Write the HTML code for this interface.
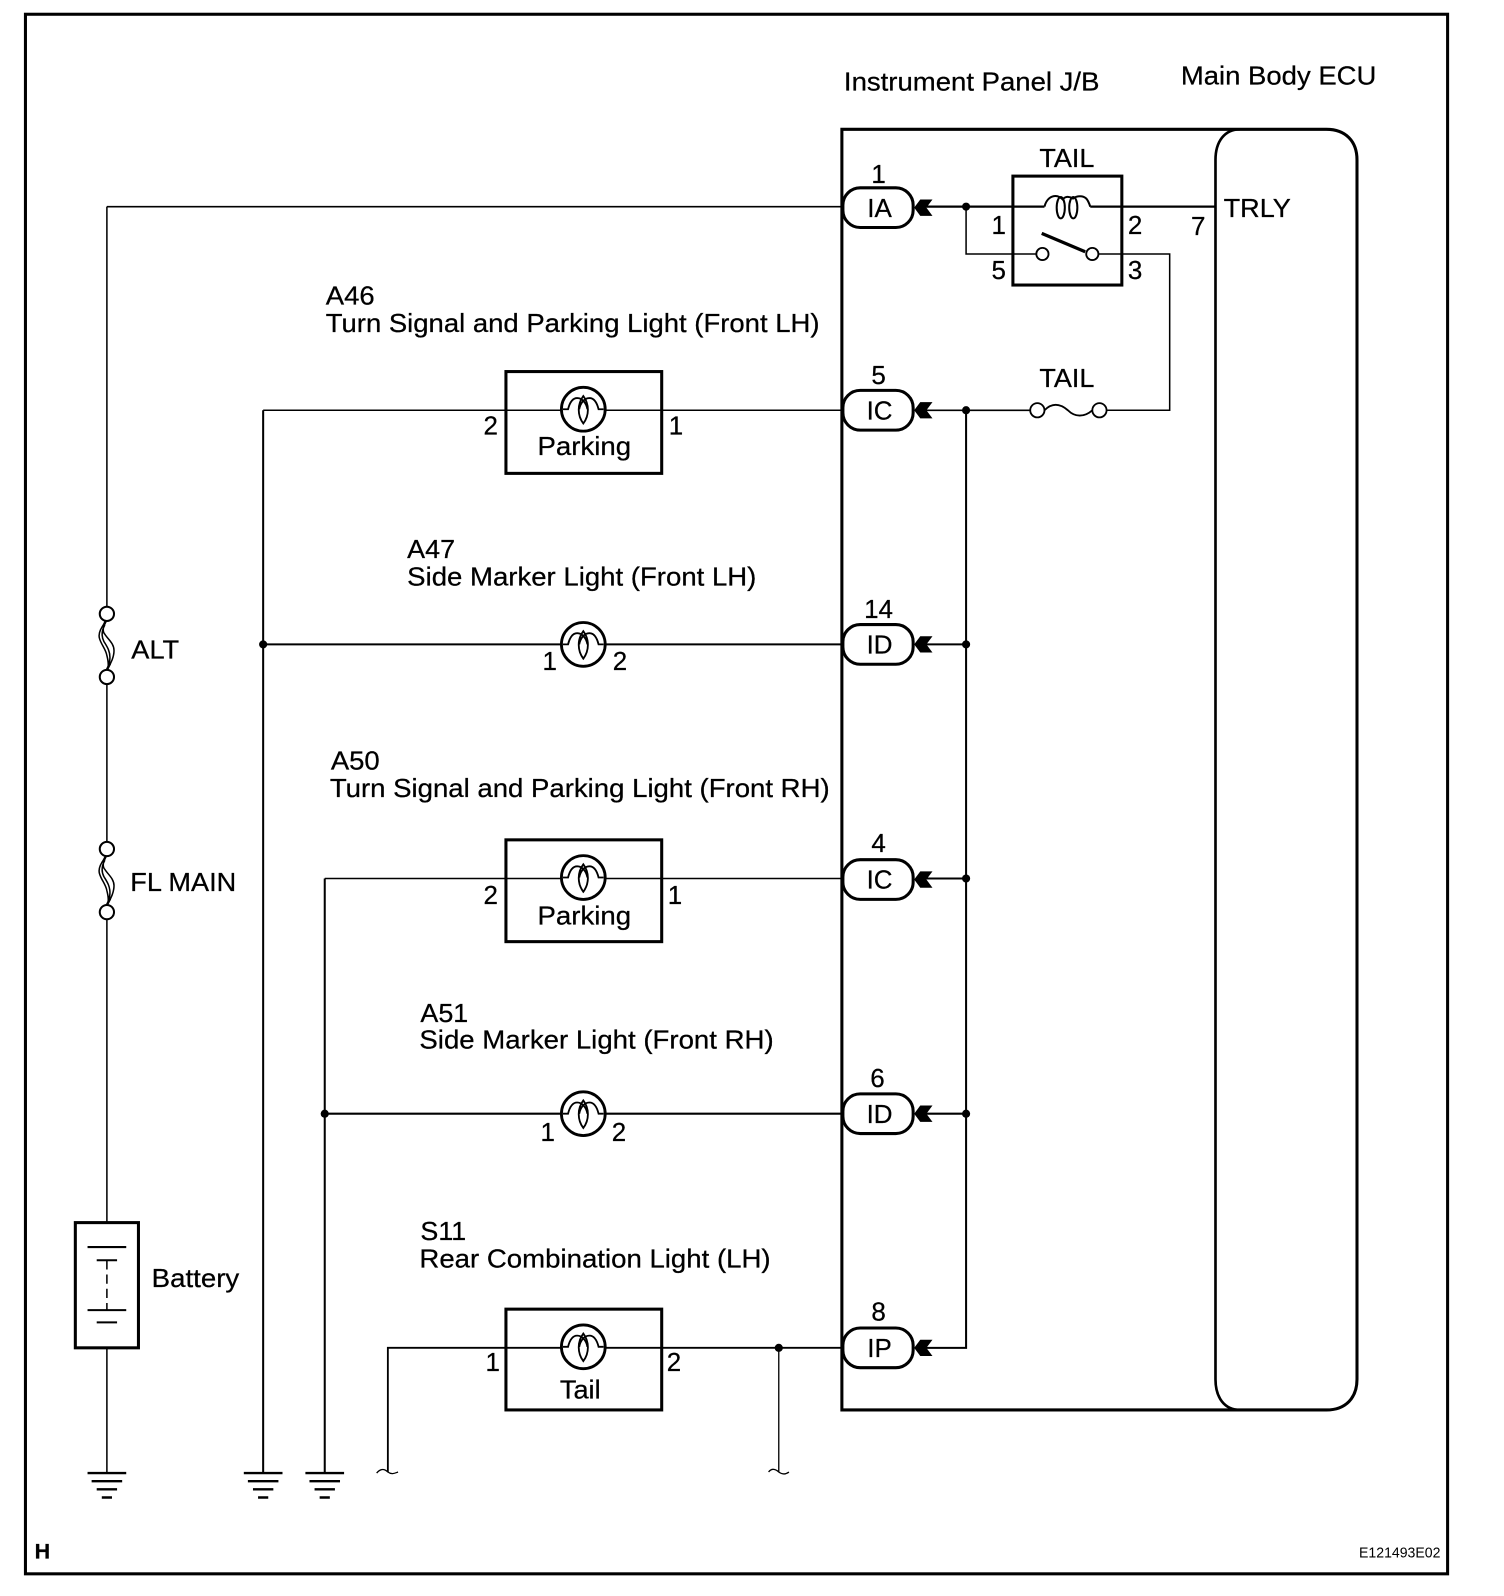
<!DOCTYPE html>
<html><head><meta charset="utf-8"><style>
html,body{margin:0;padding:0;background:#fff}
svg{display:block}
text{font-family:"Liberation Sans",sans-serif;font-size:25.5px;fill:#000;stroke:#000;stroke-width:.25px}
.m{text-anchor:middle}
</style></head><body>
<svg xmlns="http://www.w3.org/2000/svg" width="1504" height="1596" viewBox="0 0 1504 1596">
<defs>
<g id="conn">
<rect x="-35" y="-19.5" width="69" height="39" rx="17" ry="17" fill="#fff" stroke="#000" stroke-width="3"/>
<path d="M35 0L41 -8H53L47 0L53 8H41Z" fill="#000"/>
</g>
<g id="lamp">
<circle r="21.5" fill="#fff" stroke="#000" stroke-width="2.8"/>
<path d="M-20 0H-15C-13 -8 -10 -11 -6 -11C-1 -11 3 -6 4 0M20 0H15C13 -8 10 -11 6 -11C1 -11 -3 -6 -4 0M0 -13C-6 -5 -6 6 0 14C6 6 6 -5 0 -13Z" fill="none" stroke="#000" stroke-width="1.8"/>
</g>
<g id="gnd" stroke="#000" stroke-width="2.4">
<path d="M-19 0H19M-15 8H15M-10 16H10M-5 24H5"/>
</g>
<g id="fuse">
<circle cx="0" cy="-31" r="7" fill="#fff" stroke="#000" stroke-width="2"/>
<circle cx="0" cy="31" r="7" fill="#fff" stroke="#000" stroke-width="2"/>
<path d="M-2 -22C-6 -17 -9 -11 -7 -6C-5 0 -1 4 0 10C1 14 2 18 1 22M-2 -22C-4 -17 -4 -13 -2 -11C1 -6 7 -2 7 5C7 11 4 18 1 22M-2 -20C-6 -13 -5 -8 -3 -4C0 1 3 5 3 12C3 16 2 19 1 22" fill="none" stroke="#000" stroke-width="1.5"/>
<path d="M-1 -24L-4 -18M0 24L3 18" fill="none" stroke="#000" stroke-width="2.4"/>
</g>
</defs>
<g transform="scale(1.018)">
<g fill="none" stroke="#000">
<rect x="25" y="14" width="1397" height="1532" stroke-width="3"/>
<path d="M1303 127H827V1385H1303C1322 1385 1333 1373 1333 1355V157C1333 139 1322 127 1303 127Z" stroke-width="3"/>
<path d="M1218 127C1203 127 1194 139 1194 157V1355C1194 1373 1203 1385 1218 1385" stroke-width="2.6"/>
<path d="M105 203V597M105 671V828M105 902V1201M105 1324V1446" stroke-width="1.5"/>
<path d="M105 203H828" stroke-width="1.6"/>
<path d="M900 203H1026M1071 203H1194" stroke-width="2.2"/>
<path d="M949 203V249.500H1018M1079 249.500H1149V403H1087" stroke-width="1.5"/>
<path d="M905 403H1012" stroke-width="1.6"/>
<path d="M258.500 403H828" stroke-width="1.4"/>
<path d="M258.500 403V1446M319 863V1446" stroke-width="2"/>
<path d="M258 633H828" stroke-width="2"/>
<path d="M319 863H828" stroke-width="1.5"/>
<path d="M319 1094H828" stroke-width="2"/>
<path d="M381 1446V1324H828" stroke-width="1.8"/>
<path d="M765 1324V1446" stroke-width="1.3"/>
<path d="M370 1447C374 1442 378 1443 381 1446C385 1449 388 1447 391 1446M755 1446C758 1442 762 1443 765 1446C769 1449 772 1448 775 1446" stroke-width="1.3"/>
<path d="M949 403V1324H905M905 633H949M905 863H949M905 1094H949" stroke-width="2"/>
<rect x="497" y="365" width="153" height="100" stroke-width="3"/>
<rect x="497" y="825" width="153" height="100" stroke-width="3"/>
<rect x="497" y="1286" width="153" height="99" stroke-width="3"/>
<rect x="995" y="173" width="107" height="107" stroke-width="3"/>
<rect x="74" y="1201" width="62" height="123" stroke-width="3"/>
<path d="M86 1225H124M95 1238H115M86 1287H124M95 1299H115" stroke-width="2"/>
<path d="M105 1238V1287" stroke-width="1.5" stroke-dasharray="9 5"/>
<path d="M1026 203C1028 195 1033 192.500 1037 192.500C1040 192.500 1042 194 1044 196C1046 193 1050 192.500 1054 195C1058 192 1064 192 1067 195C1069 197 1070 200 1071 203" stroke-width="2"/>
<ellipse cx="1042" cy="204" rx="4" ry="10.500" stroke-width="2"/>
<ellipse cx="1054.300" cy="204" rx="4" ry="10.500" stroke-width="2"/>
<path d="M1023.300 229.200L1066 247.300" stroke-width="3.2"/>
<circle cx="1024" cy="249.500" r="6" fill="#fff" stroke-width="1.8"/>
<circle cx="1073" cy="249.500" r="6" fill="#fff" stroke-width="1.8"/>
<circle cx="1019" cy="403" r="7" fill="#fff" stroke-width="1.8"/>
<circle cx="1080" cy="403" r="7" fill="#fff" stroke-width="1.8"/>
<path d="M1026 403C1034 395 1042 397 1049 403C1056 410 1065 410 1073 403" stroke-width="1.8"/>
</g>
<g fill="#000">
<circle cx="949" cy="203" r="4"/><circle cx="949" cy="403" r="4"/><circle cx="949" cy="633" r="4"/><circle cx="949" cy="863" r="4"/><circle cx="949" cy="1094" r="4"/>
<circle cx="258.500" cy="633" r="4"/><circle cx="319" cy="1094" r="4"/><circle cx="765" cy="1324" r="4"/>
</g>
<use href="#fuse" x="105" y="634"/>
<use href="#fuse" x="105" y="865"/>
<use href="#gnd" x="105" y="1447"/><use href="#gnd" x="258.500" y="1447"/><use href="#gnd" x="319" y="1447"/>
<use href="#lamp" x="573" y="402"/><use href="#lamp" x="573" y="633"/><use href="#lamp" x="573" y="862"/><use href="#lamp" x="573" y="1094"/><use href="#lamp" x="573" y="1323"/>
<use href="#conn" x="863" y="204"/><use href="#conn" x="863" y="403"/><use href="#conn" x="863" y="633"/><use href="#conn" x="863" y="864"/><use href="#conn" x="863" y="1094"/><use href="#conn" x="863" y="1324"/>

<text x="829" y="89" textLength="251" lengthAdjust="spacingAndGlyphs">Instrument Panel J/B</text>
<text x="1160" y="83" textLength="192" lengthAdjust="spacingAndGlyphs">Main Body ECU</text>
<text x="1021" y="164" textLength="54" lengthAdjust="spacingAndGlyphs">TAIL</text>
<text x="1021" y="380" textLength="54" lengthAdjust="spacingAndGlyphs">TAIL</text>
<text x="1202" y="213" textLength="66" lengthAdjust="spacingAndGlyphs">TRLY</text>
<text class="m" x="863" y="180">1</text><text class="m" x="864" y="213">IA</text>
<text class="m" x="981" y="230">1</text><text class="m" x="1115" y="230">2</text><text class="m" x="1177" y="231">7</text>
<text class="m" x="981" y="274">5</text><text class="m" x="1115" y="274">3</text>
<text x="320" y="299" textLength="48" lengthAdjust="spacingAndGlyphs">A46</text>
<text x="320" y="326" textLength="485" lengthAdjust="spacingAndGlyphs">Turn Signal and Parking Light (Front LH)</text>
<text x="528" y="447" textLength="92" lengthAdjust="spacingAndGlyphs">Parking</text><text class="m" x="482" y="427">2</text><text class="m" x="664" y="427">1</text>
<text class="m" x="863" y="377">5</text><text class="m" x="864" y="412">IC</text>
<text x="400" y="548" textLength="47" lengthAdjust="spacingAndGlyphs">A47</text>
<text x="400" y="575" textLength="343" lengthAdjust="spacingAndGlyphs">Side Marker Light (Front LH)</text>
<text class="m" x="540" y="658">1</text><text class="m" x="609" y="658">2</text>
<text class="m" x="863" y="607">14</text><text class="m" x="864" y="642">ID</text>
<text x="325" y="756" textLength="48" lengthAdjust="spacingAndGlyphs">A50</text>
<text x="324" y="783" textLength="491" lengthAdjust="spacingAndGlyphs">Turn Signal and Parking Light (Front RH)</text>
<text x="528" y="908" textLength="92" lengthAdjust="spacingAndGlyphs">Parking</text><text class="m" x="482" y="888">2</text><text class="m" x="663" y="888">1</text>
<text class="m" x="863" y="837">4</text><text class="m" x="864" y="873">IC</text>
<text x="413" y="1004" textLength="47" lengthAdjust="spacingAndGlyphs">A51</text>
<text x="412" y="1030" textLength="348" lengthAdjust="spacingAndGlyphs">Side Marker Light (Front RH)</text>
<text class="m" x="538" y="1121">1</text><text class="m" x="608" y="1121">2</text>
<text class="m" x="862" y="1068">6</text><text class="m" x="864" y="1103">ID</text>
<text x="413" y="1218" textLength="45" lengthAdjust="spacingAndGlyphs">S11</text>
<text x="412" y="1245" textLength="345" lengthAdjust="spacingAndGlyphs">Rear Combination Light (LH)</text>
<text x="550" y="1374" textLength="40" lengthAdjust="spacingAndGlyphs">Tail</text><text class="m" x="484" y="1347">1</text><text class="m" x="662" y="1347">2</text>
<text class="m" x="863" y="1297">8</text><text class="m" x="864" y="1333">IP</text>
<text x="129" y="647" textLength="47" lengthAdjust="spacingAndGlyphs">ALT</text>
<text x="128" y="875" textLength="104" lengthAdjust="spacingAndGlyphs">FL MAIN</text>
<text x="149" y="1264" textLength="86" lengthAdjust="spacingAndGlyphs">Battery</text>
<text x="34" y="1531" style="font-weight:bold;font-size:21px">H</text>
<text x="1335" y="1530" textLength="80" lengthAdjust="spacingAndGlyphs" style="font-size:14.500px;stroke-width:0">E121493E02</text>
</g>
</svg>
</body></html>
